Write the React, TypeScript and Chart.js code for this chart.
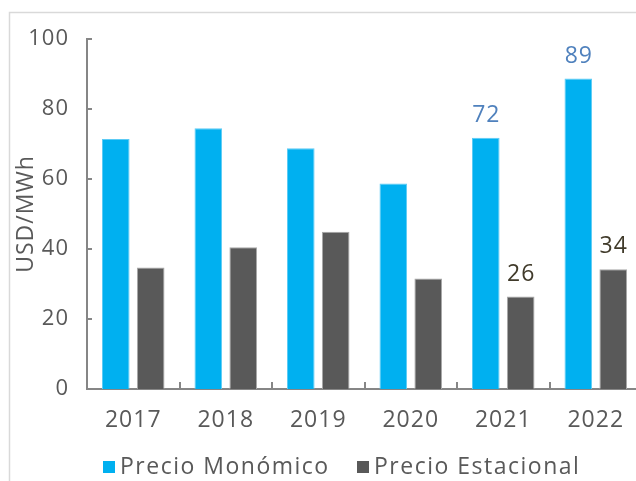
import React, { useEffect, useRef } from "react";
import { Chart, registerables } from "chart.js";

Chart.register(...registerables);

const categories = ["2017", "2018", "2019", "2020", "2021", "2022"];
const precioMonomico = [71.4, 74.5, 68.8, 58.7, 71.8, 88.7];
const precioEstacional = [34.7, 40.5, 44.9, 31.6, 26.4, 34.2];
const labeledIndices = [4, 5];
const yTicks = [0, 20, 40, 60, 80, 100];
const seriesNames = ["Precio Monómico", "Precio Estacional"];

const FONT = "'Open Sans', sans-serif";
const BLUE = "#00B0F0";
const GRAY = "#595959";
const TEXT = "#595959";
const AXIS = "#868686";

const decorPlugin = {
  id: "decor",
  beforeDraw(chart: any) {
    const ctx = chart.ctx;
    ctx.save();
    ctx.strokeStyle = "#d9d9d9";
    ctx.lineWidth = 1.5;
    ctx.beginPath();
    ctx.moveTo(9.5, chart.height + 5);
    ctx.lineTo(9.5, 12.5);
    ctx.lineTo(chart.width + 5, 12.5);
    ctx.stroke();
    ctx.restore();
    ctx.letterSpacing = "1px";
  },
  beforeDatasetsDraw(chart: any) {
    chart.ctx.letterSpacing = "1px";
  },
  afterDraw(chart: any) {
    const ctx = chart.ctx;
    const area = chart.chartArea;
    const x = chart.scales.x;
    const y = chart.scales.y;
    ctx.save();
    ctx.strokeStyle = AXIS;
    ctx.lineWidth = 2;
    yTicks.forEach((v) => {
      const py = Math.round(y.getPixelForValue(v));
      ctx.beginPath();
      ctx.moveTo(area.left, py);
      ctx.lineTo(area.left + 5, py);
      ctx.stroke();
    });
    for (let i = 0; i <= categories.length; i++) {
      const px = Math.round(x.getPixelForValue(i - 0.5));
      ctx.beginPath();
      ctx.moveTo(px, area.bottom);
      ctx.lineTo(px, area.bottom - 7);
      ctx.stroke();
    }
    ctx.letterSpacing = "1px";
    ctx.font = `23px ${FONT}`;
    ctx.textAlign = "center";
    ctx.textBaseline = "alphabetic";
    const colors = ["#4F81BD", "#403A2A"];
    [0, 1].forEach((di) => {
      const meta = chart.getDatasetMeta(di);
      labeledIndices.forEach((i) => {
        const bar = meta.data[i];
        const val = chart.data.datasets[di].data[i];
        ctx.fillStyle = colors[di];
        ctx.fillText(String(Math.round(val)), bar.x + 0.5, bar.y - 16);
      });
    });
    const items = [
      { color: BLUE, text: seriesNames[0], sx: 103, tx: 120 },
      { color: GRAY, text: seriesNames[1], sx: 357, tx: 374 },
    ];
    ctx.letterSpacing = "1.5px";
    ctx.textAlign = "left";
    ctx.textBaseline = "middle";
    items.forEach((it) => {
      ctx.fillStyle = it.color;
      ctx.fillRect(it.sx, 461, 12, 12);
      ctx.fillStyle = TEXT;
      ctx.fillText(it.text, it.tx, 467);
    });
    ctx.restore();
  },
};

const titleSpacingPlugin = {
  id: "titleSpacing",
  beforeDraw(chart: any) {
    chart.ctx.letterSpacing = "1px";
  },
};

export default function App() {
  const ref = useRef<HTMLCanvasElement>(null);
  useEffect(() => {
    if (!ref.current) return;
    const chart = new Chart(ref.current, {
      type: "bar",
      data: {
        labels: categories,
        datasets: [
          {
            label: seriesNames[0],
            data: precioMonomico,
            backgroundColor: BLUE,
            borderColor: "#5CCBF5",
            borderWidth: 1,
            barPercentage: 0.79,
            categoryPercentage: 0.755,
          },
          {
            label: seriesNames[1],
            data: precioEstacional,
            backgroundColor: GRAY,
            borderColor: "#a8a8a8",
            borderWidth: 1,
            barPercentage: 0.79,
            categoryPercentage: 0.755,
          },
        ],
      },
      options: {
        responsive: false,
        animation: false,
        devicePixelRatio: 1,
        layout: { padding: { left: 0, top: 39, right: 0, bottom: 0 } },
        plugins: {
          legend: { display: false },
          tooltip: { enabled: false },
          title: { display: false },
        },
        scales: {
          x: {
            grid: { display: false, drawTicks: false },
            border: { display: true, color: AXIS, width: 2 },
            ticks: {
              color: TEXT,
              font: { family: FONT, size: 23 },
              padding: 18,
              maxRotation: 0,
            },
            afterFit(scale: any) {
              scale.height = 92;
            },
          },
          y: {
            min: 0,
            max: 100,
            grid: { display: false, drawTicks: false },
            border: { display: true, color: AXIS, width: 2 },
            ticks: {
              stepSize: 20,
              color: TEXT,
              font: { family: FONT, size: 22 },
              padding: 18,
            },
            title: {
              display: true,
              text: "USD/MWh",
              color: TEXT,
              font: { family: FONT, size: 23 },
              padding: { top: 13, bottom: 0 },
            },
            afterFit(scale: any) {
              scale.width = 87;
            },
          },
        },
      },
      plugins: [titleSpacingPlugin, decorPlugin],
    });
    return () => chart.destroy();
  }, []);
  return (
    <div
      style={{
        position: "fixed",
        left: 0,
        top: 0,
        width: 636,
        height: 481,
        overflow: "hidden",
        background: "#fff",
      }}
    >
      <canvas ref={ref} width={642} height={481} style={{ width: 642, height: 481, display: "block" }} />
    </div>
  );
}
